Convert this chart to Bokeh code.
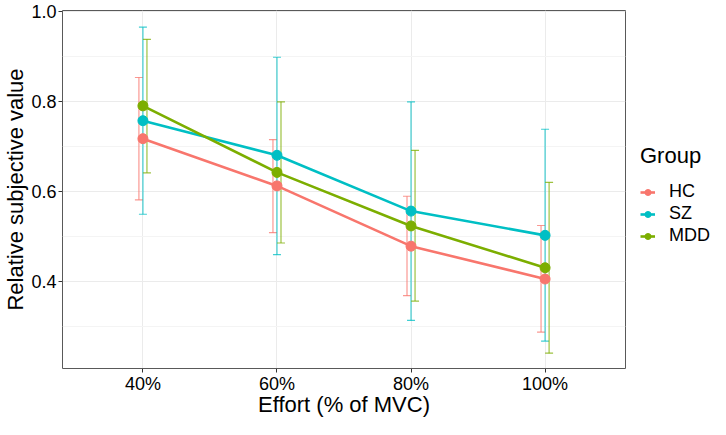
from bokeh.plotting import figure
from bokeh.layouts import row
from bokeh.models import (ColumnDataSource, FactorRange, Whisker, TeeHead, Legend,
                          LegendItem, FixedTicker, PrintfTickFormatter)
from bokeh.transform import dodge
from bokeh.embed import file_html
from bokeh.resources import INLINE

efforts = ["40%", "60%", "80%", "100%"]
groups = ["HC", "SZ", "MDD"]
colors = ["#F8766D", "#00BFC4", "#7CAE00"]

hc_mean = [0.718, 0.613, 0.479, 0.406]
hc_lower = [0.582, 0.509, 0.369, 0.288]
hc_upper = [0.854, 0.716, 0.590, 0.525]

sz_mean = [0.758, 0.681, 0.557, 0.503]
sz_lower = [0.550, 0.460, 0.314, 0.268]
sz_upper = [0.966, 0.899, 0.800, 0.739]

mdd_mean = [0.791, 0.643, 0.524, 0.431]
mdd_lower = [0.642, 0.486, 0.357, 0.241]
mdd_upper = [0.939, 0.800, 0.692, 0.621]

series = [
    ("HC", hc_mean, hc_lower, hc_upper, -0.03),
    ("SZ", sz_mean, sz_lower, sz_upper, 0.0),
    ("MDD", mdd_mean, mdd_lower, mdd_upper, 0.03),
]

FONT = "Liberation Sans"

p = figure(
    width=627, height=419,
    x_range=FactorRange(factors=efforts, range_padding=0.1, range_padding_units="absolute"),
    y_range=(0.207, 1.003),
    output_backend="svg", toolbar_location=None,
    min_border_left=53, min_border_right=2, min_border_top=10, min_border_bottom=30,
)

p.background_fill_color = "white"
p.border_fill_color = "white"
p.outline_line_color = "#595959"
p.outline_line_width = 1

p.xgrid.grid_line_color = "#EBEBEB"
p.ygrid.grid_line_color = "#EBEBEB"
p.ygrid.minor_grid_line_color = "#F4F4F4"
p.yaxis.ticker = FixedTicker(ticks=[0.4, 0.6, 0.8, 1.0], minor_ticks=[0.3, 0.5, 0.7, 0.9])
p.yaxis.formatter = PrintfTickFormatter(format="%.1f")

for ax in (p.xaxis[0], p.yaxis[0]):
    ax.axis_line_color = None
    ax.major_tick_line_color = "#333333"
    ax.major_tick_out = 4
    ax.major_tick_in = 0
    ax.minor_tick_line_color = None
    ax.major_label_text_font = FONT
    ax.major_label_text_font_size = "18px"
    ax.major_label_text_color = "black"
    ax.axis_label_text_font = FONT
    ax.axis_label_text_font_size = "22px"
    ax.axis_label_text_font_style = "normal"
    ax.axis_label_text_color = "black"

p.yaxis.major_label_standoff = 2
p.yaxis.axis_label_standoff = 0
p.xaxis.major_label_standoff = 1
p.xaxis.axis_label_standoff = -5

p.xaxis.axis_label = "Effort (% of MVC)"
p.yaxis.axis_label = "Relative subjective value"

# legend panel: a blank figure next to the plot
q = figure(
    width=83, height=419, x_axis_type=None, y_axis_type=None,
    x_range=(0, 1), y_range=(0, 1),
    output_backend="svg", toolbar_location=None,
    min_border_left=0, min_border_right=0, min_border_top=0, min_border_bottom=0,
)
q.outline_line_color = None
q.grid.visible = False
q.background_fill_color = "white"
q.border_fill_color = "white"

nan = float("nan")
items = []
for (name, mean, lower, upper, off), col in zip(series, colors):
    src = ColumnDataSource(dict(x=efforts, mean=mean, lower=lower, upper=upper))
    w = Whisker(
        base=dodge("x", off, range=p.x_range), upper="upper", lower="lower", source=src,
        line_color=col, line_width=1.2, line_alpha=0.75,
        upper_head=TeeHead(size=8, line_color=col, line_width=1.2, line_alpha=0.75),
        lower_head=TeeHead(size=8, line_color=col, line_width=1.2, line_alpha=0.75),
    )
    p.add_layout(w)
    p.line(x="x", y="mean", source=src, line_color=col, line_width=2.6)
    p.scatter(x="x", y="mean", source=src, size=10, fill_color=col, line_color=col)
    # legend key glyphs (a single NaN point, so nothing is drawn in the panel)
    kl = q.line(x=[nan, nan], y=[nan, nan], line_color=col, line_width=2.6)
    kp = q.scatter(x=[nan], y=[nan], size=10, fill_color=col, line_color=col)
    items.append(LegendItem(label=name, renderers=[kl, kp]))

legend = Legend(
    items=items, location=(13, 122),
    title="Group", title_text_font=FONT, title_text_font_size="22px",
    title_text_font_style="normal", title_text_color="black", title_standoff=12,
    label_text_font=FONT, label_text_font_size="18px", label_text_color="black",
    glyph_width=15, glyph_height=20, label_height=20, label_standoff=14,
    spacing=1, padding=0, margin=0,
    border_line_color=None, background_fill_alpha=0,
)
q.add_layout(legend)

layout = row(p, q)
open("out.html", "w").write(file_html(layout, INLINE))
